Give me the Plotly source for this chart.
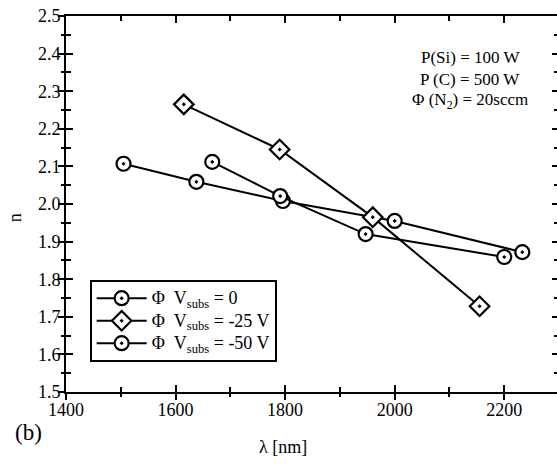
import plotly.graph_objects as go

# Data
lam_v0 = [1505, 1638, 1796, 2000, 2233]
n_v0 = [2.107, 2.059, 2.008, 1.955, 1.872]
lam_v25 = [1615, 1790, 1960, 2155]
n_v25 = [2.265, 2.145, 1.965, 1.728]
lam_v50 = [1667, 1791, 1947, 2200]
n_v50 = [2.112, 2.021, 1.920, 1.859]
names = ["\u03a6\u00a0\u00a0V<sub>subs</sub> = 0", "\u03a6\u00a0\u00a0V<sub>subs</sub> = -25 V",
         "\u03a6\u00a0\u00a0V<sub>subs</sub> = -50 V"]

FONT = "Liberation Serif, serif"
fig = go.Figure()
series = [(lam_v0, n_v0, "circle-dot"), (lam_v25, n_v25, "diamond-dot"), (lam_v50, n_v50, "circle-dot")]
for (x, y, sym), nm in zip(series, names):
    fig.add_trace(go.Scatter(
        x=x, y=y, name='<span style="font-size:18px">' + nm + '</span>', mode="lines+markers",
        line=dict(color="black", width=2),
        marker=dict(symbol=sym, size=14 if sym.startswith("circle") else 15,
                    color="white", line=dict(color="black", width=2.2)),
    ))
# empty trace to activate overlay axes (outside half of crossing ticks)
fig.add_trace(go.Scatter(x=[], y=[], xaxis="x2", yaxis="y2", showlegend=False, hoverinfo="skip"))

axis_common = dict(showgrid=False, zeroline=False, linecolor="black", linewidth=2,
                   tickcolor="black", tickwidth=2)
fig.update_layout(
    width=566, height=464,
    margin=dict(l=66, r=5, t=16, b=72),
    paper_bgcolor="white", plot_bgcolor="white",
    font=dict(family=FONT, color="black", size=17),
    xaxis=dict(range=[1400, 2300], dtick=200, tick0=1400, ticks="inside", ticklen=7,
               mirror="ticks", showline=True,
               minor=dict(dtick=100, ticks="inside", ticklen=5, tickcolor="black", tickwidth=2),
               tickfont=dict(size=18, family=FONT), **axis_common),
    yaxis=dict(range=[1.5, 2.5], dtick=0.1, tick0=1.5, ticks="inside", ticklen=7,
               mirror="ticks", showline=True, tickformat=".1f",
               minor=dict(dtick=0.05, ticks="inside", ticklen=5, tickcolor="black", tickwidth=2),
               tickfont=dict(size=18, family=FONT), **axis_common),
    xaxis2=dict(range=[1400, 2300], overlaying="x", side="bottom", dtick=200, tick0=1400,
                ticks="outside", ticklen=7, showticklabels=False, showline=False,
                minor=dict(dtick=100, ticks="outside", ticklen=4, tickcolor="black", tickwidth=2),
                showgrid=False, zeroline=False, tickcolor="black", tickwidth=2),
    yaxis2=dict(range=[1.5, 2.5], overlaying="y", side="left", dtick=0.1, tick0=1.5,
                ticks="outside", ticklen=7, showticklabels=False, showline=False,
                minor=dict(dtick=0.05, ticks="outside", ticklen=4, tickcolor="black", tickwidth=2),
                showgrid=False, zeroline=False, tickcolor="black", tickwidth=2),
    legend=dict(x=0.048, y=0.298, xanchor="left", yanchor="top",
                bordercolor="black", borderwidth=2, bgcolor="white",
                font=dict(size=15, family=FONT), tracegroupgap=0, itemwidth=50),
    showlegend=True,
)
fig.add_annotation(xref="paper", yref="paper", x=-0.103, y=0.463, text="n", showarrow=False,
                   textangle=-90, font=dict(size=18, family=FONT), xanchor="center", yanchor="middle")
fig.add_annotation(xref="paper", yref="paper", x=0.44, y=-0.146, text="\u03bb [nm]", showarrow=False,
                   font=dict(size=18, family=FONT), xanchor="center", yanchor="middle")
fig.add_annotation(xref="paper", yref="paper", x=-0.077, y=-0.107, text="(b)", showarrow=False,
                   font=dict(size=23, family=FONT), xanchor="center", yanchor="middle")
ann = ["P(Si) = 100 W", "P (C) = 500 W", "\u03a6 (N<sub>2</sub>) = 20sccm"]
ann_y = [58, 80, 101]
for t, py in zip(ann, ann_y):
    fig.add_annotation(xref="paper", yref="paper", x=(472 - 66) / 495, y=(392 - py) / 375.5,
                       text=t, showarrow=False, font=dict(size=17, family=FONT),
                       xanchor="center", yanchor="middle")
fig.write_html("out.html")
